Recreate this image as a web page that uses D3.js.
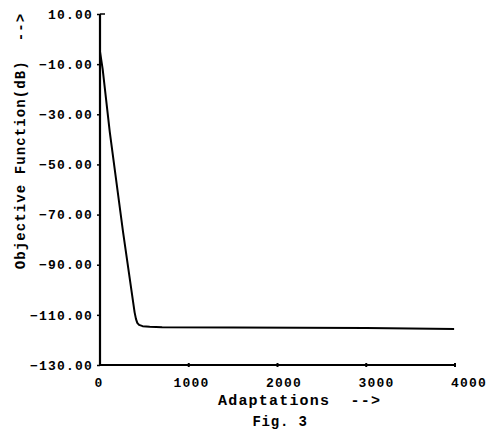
<!DOCTYPE html>
<html>
<head>
<meta charset="utf-8">
<script src="https://cdn.jsdelivr.net/npm/d3@7"></script>
<style>
  body { margin: 0; background: #fff; }
  text { font-family: "Liberation Mono", "DejaVu Sans Mono", monospace; font-weight: bold; fill: #000; }
</style>
</head>
<body>
<div id="chart"></div>
<script>
// values
const adaptations = [0, 30, 110, 260, 390, 405, 420, 440, 480, 560, 700, 1500, 3000, 3990];
const objectiveDb = [-5, -12, -37, -77, -109, -111.6, -113.2, -114, -114.5, -114.7, -114.9, -115, -115.2, -115.6];

const yTicks = [10, -10, -30, -50, -70, -90, -110, -130];
const xTicks = [0, 1000, 2000, 3000, 4000];

const w = 486;
const h = 433;

const svg = d3.select('#chart')
  .append('svg')
  .attr('width', w)
  .attr('height', h);

const x = d3.scaleLinear().domain([0, 4000]).range([100, 455]);
const y = d3.scaleLinear().domain([-130, 10]).range([365, 14]);

// the plotter put the x labels a little right of the ticks
const xLabel = d3.scaleLinear().domain([0, 4000]).range([99, 469]);

// axes
const yAxis = d3.axisLeft(y).tickValues(yTicks).tickSize(3).tickFormat(d3.format('.2f'));
const gy = svg.append('g')
  .attr('transform', `translate(${x(0)},0)`)
  .call(yAxis);
gy.select('.domain').attr('stroke-width', 2.2).attr('d', `M0,${y(10)}V${y(-130)}`);
gy.selectAll('.tick line').attr('stroke-width', 1.5);
gy.selectAll('.tick text')
  .attr('x', -7)
  .style('font-size', '13px')
  .style('letter-spacing', '1.2px');

svg.append('line')
  .attr('x1', x(0)).attr('x2', x(0) + 5)
  .attr('y1', y(10)).attr('y2', y(10))
  .attr('stroke', '#000').attr('stroke-width', 1.5);

const gx = svg.append('g')
  .attr('transform', `translate(0,${y(-130)})`);
gx.append('line')
  .attr('x1', x(0)).attr('x2', x(4000))
  .attr('stroke', '#000').attr('stroke-width', 2.2);
gx.selectAll('.xt')
  .data(xTicks.slice(1))
  .enter()
  .append('line')
  .attr('class', 'xt')
  .attr('x1', (d) => x(d)).attr('x2', (d) => x(d))
  .attr('y1', -2).attr('y2', 2)
  .attr('stroke', '#000').attr('stroke-width', 2);
gx.selectAll('.xl')
  .data(xTicks)
  .enter()
  .append('text')
  .attr('class', 'xl')
  .attr('x', (d) => xLabel(d))
  .attr('y', 22)
  .attr('text-anchor', 'middle')
  .style('font-size', '13px')
  .style('letter-spacing', '1.2px')
  .text((d) => d);

// curve
const line = d3.line()
  .x((d, i) => x(adaptations[i]))
  .y((d) => y(d));

svg.append('path')
  .datum(objectiveDb)
  .attr('d', line)
  .attr('fill', 'none')
  .attr('stroke', '#000')
  .attr('stroke-width', 2)
  .attr('stroke-linejoin', 'round');

// titles
svg.append('text')
  .attr('x', 218)
  .attr('y', 405)
  .style('font-size', '15px')
  .style('letter-spacing', '1.2px')
  .style('white-space', 'pre')
  .text('Adaptations  -->');

svg.append('text')
  .attr('x', 280)
  .attr('y', 426)
  .attr('text-anchor', 'middle')
  .style('font-size', '14px')
  .style('letter-spacing', '0.8px')
  .style('white-space', 'pre')
  .text('Fig. 3');

svg.append('text')
  .attr('transform', 'translate(25,141) rotate(-90)')
  .attr('text-anchor', 'middle')
  .style('font-size', '14px')
  .style('letter-spacing', '1.1px')
  .style('white-space', 'pre')
  .text('Objective Function(dB)  -->');
</script>
</body>
</html>
